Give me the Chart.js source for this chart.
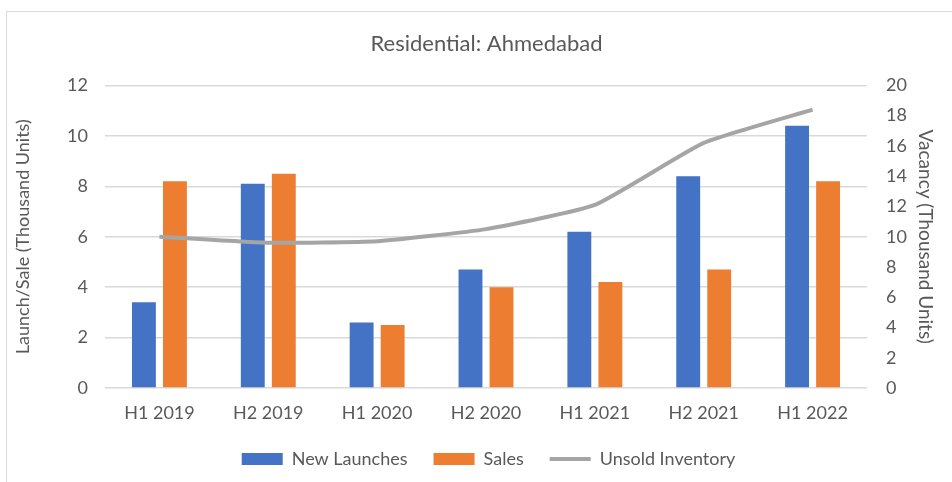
<!DOCTYPE html>
<html>
<head>
<meta charset="utf-8">
<script src="https://cdn.jsdelivr.net/npm/chart.js@4.4.0/dist/chart.umd.min.js"></script>
<style>
  html, body { margin: 0; padding: 0; background: #fff; }
  #frame { position: absolute; left: 6px; top: 11px; width: 960px; height: 470px; border: 1px solid #d9d9d9; }
  #wrap { position: absolute; left: 0; top: 0; width: 952px; height: 482px; }
</style>
</head>
<body>
<div id="frame"></div>
<div id="wrap"><canvas id="myChart" width="952" height="482"></canvas></div>
<script>
const categories = ['H1 2019', 'H2 2019', 'H1 2020', 'H2 2020', 'H1 2021', 'H2 2021', 'H1 2022'];
const newLaunches = [3.4, 8.1, 2.6, 4.7, 6.2, 8.4, 10.4];
const sales = [8.2, 8.5, 2.5, 4.0, 4.2, 4.7, 8.2];
const unsoldInventory = [10.0, 9.6, 9.7, 10.5, 12.1, 16.2, 18.4];
const leftAxisMax = 12, leftAxisStep = 2;
const rightAxisMax = 20, rightAxisStep = 2;

const textColor = '#595959';
const fontName = 'Lato';

// nudges title and legend sideways, like in the excel original
const shiftBlocks = {
  id: 'shiftBlocks',
  afterLayout(chart) {
    chart.titleBlock.left += 12; chart.titleBlock.right += 12;
    chart.legend.left += 14; chart.legend.right += 14;
  }
};

const ctx = document.getElementById('myChart');
const myChart = new Chart(ctx, {
  data: {
    labels: categories,
    datasets: [{
      type: 'line',
      label: 'Unsold Inventory',
      data: unsoldInventory,
      yAxisID: 'y1',
      borderColor: '#A5A5A5',
      backgroundColor: '#A5A5A5',
      borderWidth: 4,
      pointRadius: 0,
      tension: 0.15,
      order: 0
    }, {
      type: 'bar',
      label: 'New Launches',
      data: newLaunches,
      yAxisID: 'y',
      backgroundColor: '#4472C4',
      categoryPercentage: 0.57,
      barPercentage: 0.77,
      order: 1
    }, {
      type: 'bar',
      label: 'Sales',
      data: sales,
      yAxisID: 'y',
      backgroundColor: '#ED7D31',
      categoryPercentage: 0.57,
      barPercentage: 0.77,
      order: 1
    }]
  },
  options: {
    responsive: false,
    animation: false,
    layout: { padding: { left: 8, right: 11, top: 19, bottom: 4 } },
    plugins: {
      tooltip: { enabled: false },
      title: {
        display: true,
        text: 'Residential: Ahmedabad',
        color: textColor,
        font: { family: fontName, size: 22, weight: 'normal' },
        padding: { top: 12, bottom: 28 }
      },
      legend: {
        position: 'bottom',
        labels: {
          color: textColor,
          font: { family: fontName, size: 18 },
          usePointStyle: true,
          pointStyleWidth: 41,
          boxHeight: 12,
          padding: 26,
          generateLabels(chart) {
            const order = [1, 2, 0];
            return order.map(i => {
              const ds = chart.data.datasets[i];
              const isLine = ds.type === 'line';
              return {
                text: ds.label,
                datasetIndex: i,
                fillStyle: ds.backgroundColor,
                strokeStyle: isLine ? ds.borderColor : ds.backgroundColor,
                lineWidth: isLine ? 4 : 0,
                pointStyle: isLine ? 'line' : 'rect',
                fontColor: textColor
              };
            });
          }
        }
      }
    },
    scales: {
      x: {
        afterFit(scale) { scale.height = 36; },
        grid: { display: false },
        border: { display: false },
        ticks: { color: textColor, padding: 6, font: { family: fontName, size: 18 } }
      },
      y: {
        position: 'left',
        min: 0, max: leftAxisMax,
        afterFit(scale) { scale.width = 97; },
        ticks: { stepSize: leftAxisStep, color: textColor, padding: 17, font: { family: fontName, size: 18 } },
        grid: { color: '#d9d9d9', lineWidth: 1.5, drawTicks: false },
        border: { display: false },
        title: { display: true, text: 'Launch/Sale (Thousand Units)', color: textColor, font: { family: fontName, size: 18 } }
      },
      y1: {
        position: 'right',
        min: 0, max: rightAxisMax,
        afterFit(scale) { scale.width = 74; },
        ticks: { stepSize: rightAxisStep, color: textColor, padding: 19, font: { family: fontName, size: 18 } },
        grid: { display: false, drawTicks: false },
        border: { display: false },
        title: { display: true, text: 'Vacancy (Thousand Units)', color: textColor, font: { family: fontName, size: 19 } }
      }
    }
  },
  plugins: [shiftBlocks]
});
</script>
</body>
</html>
